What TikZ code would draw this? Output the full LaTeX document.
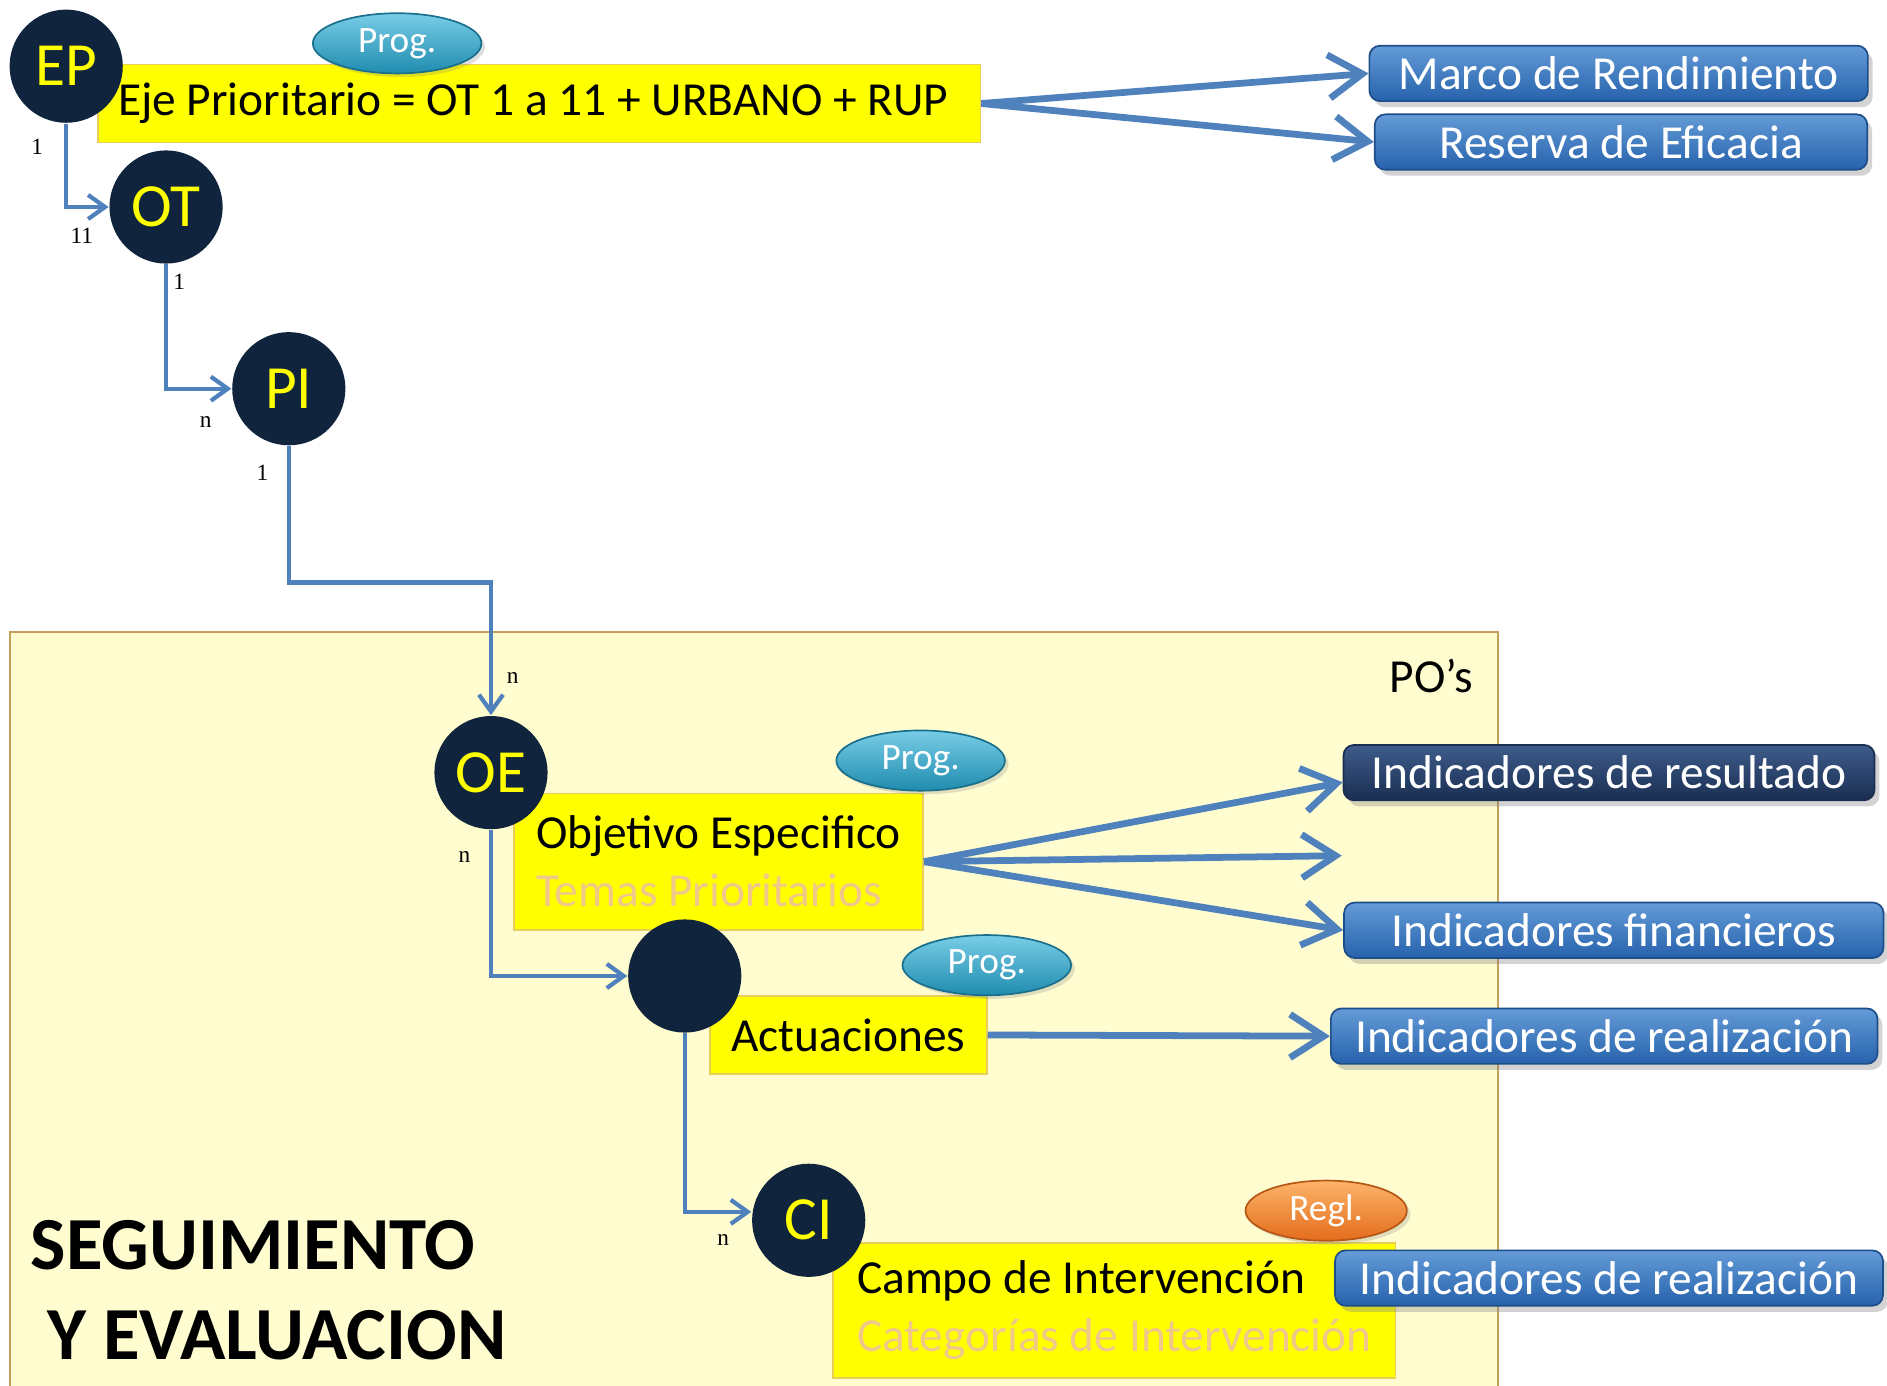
\documentclass[tikz,border=0pt]{standalone}
\usepackage{fontspec}
\setmainfont{Carlito}
\newfontfamily\serifa{Liberation Serif}
\usepackage{tikz}
\usetikzlibrary{arrows.meta,positioning,shapes.geometric,shadows}
\definecolor{azulnodo}{RGB}{16,36,62}
\definecolor{amarillo}{RGB}{255,255,0}
\definecolor{flecha}{RGB}{79,129,189}
\definecolor{fondo}{RGB}{255,253,208}
\definecolor{bordefondo}{RGB}{196,160,90}
\definecolor{bordecaja}{RGB}{232,205,90}
\definecolor{tenue}{RGB}{240,200,138}
\definecolor{azulA}{RGB}{100,155,215}
\definecolor{azulB}{RGB}{38,98,172}
\definecolor{marinoA}{RGB}{62,92,138}
\definecolor{marinoB}{RGB}{26,46,82}
\definecolor{turqA}{RGB}{120,205,230}
\definecolor{turqB}{RGB}{32,140,175}
\definecolor{naranjaA}{RGB}{252,180,105}
\definecolor{naranjaB}{RGB}{228,108,28}
\tikzset{font=\fontsize{11.2}{13.7}\selectfont}
\tikzstyle{nodo}=[circle,fill=azulnodo,text=amarillo,inner sep=0pt,minimum size=0.94cm,font=\fontsize{14.5}{16}\selectfont]
\tikzstyle{caja}=[rectangle,fill=amarillo,draw=bordecaja,line width=0.4pt,inner sep=0pt]
\tikzstyle{indic}=[rectangle,rounded corners=2.5pt,top color=azulA,bottom color=azulB,draw=azulB!80!black,text=white,minimum height=0.46cm,inner sep=0pt,drop shadow={opacity=0.35,shadow xshift=0.04cm,shadow yshift=-0.05cm}]
\tikzstyle{prog}=[ellipse,top color=turqA,bottom color=turqB,draw=turqB!80!black,text=white,minimum width=1.4cm,minimum height=0.5cm,inner sep=0pt,font=\fontsize{8.8}{9}\selectfont,drop shadow={opacity=0.25,shadow xshift=0.03cm,shadow yshift=-0.03cm}]
\tikzstyle{etiq}=[inner sep=0pt,font=\serifa\fontsize{5.5}{6}\selectfont]
\tikzstyle{conect}=[draw=flecha,line width=1pt,-{Straight Barb[length=1.4mm,width=2mm]}]
\tikzstyle{flechaG}=[color=flecha,line width=1.6pt,-{Straight Barb[length=2.8mm,width=3.6mm]}]

\begin{document}
\begin{tikzpicture}[x=0.01cm,y=-0.01cm]
\useasboundingbox (0,0) rectangle (1568,1151);
% zona de seguimiento
\draw[fill=fondo,draw=bordefondo,line width=0.5pt] (8,525) rectangle (1245,1170);
\node[anchor=east,inner sep=0pt] (POs) at (1225,562) {PO’s};
\node[anchor=west,inner sep=0pt,align=left,font=\bfseries\fontsize{17.7}{21.3}\selectfont] (SyE) at (25,1072) {SEGUIMIENTO\\\hspace*{0.22em}Y EVALUACION};

% cajas amarillas
\node[caja,minimum width=7.33cm,minimum height=0.65cm] (Eje) at (448,86) {Eje Prioritario = OT 1 a 11 + URBANO + RUP\hspace*{0.1cm}};
\node[caja,minimum width=3.4cm,minimum height=1.13cm,align=left] (Obj) at (597,716) {Objetivo Especifico\\\textcolor{tenue}{Temas Prioritarios}};
\node[caja,minimum width=2.3cm,minimum height=0.65cm] (Act) at (705,860) {Actuaciones};
\node[caja,minimum width=4.67cm,minimum height=1.12cm,align=left] (Campo) at (926,1089) {Campo de Intervención\\\textcolor{tenue}{Categorías de Intervención}};

% indicadores
\node[indic,minimum width=4.14cm] (Marco) at (1345,61) {Marco de Rendimiento};
\node[indic,minimum width=4.09cm] (Reserva) at (1347,118) {Reserva de Eficacia};
\node[indic,minimum width=4.41cm,top color=marinoA,bottom color=marinoB,draw=marinoB] (Result) at (1337,642) {Indicadores de resultado};
\node[indic,minimum width=4.48cm] (Finan) at (1341,773) {Indicadores financieros};
\node[indic,minimum width=4.54cm] (Realiz) at (1333,861) {Indicadores de realización};
\node[indic,minimum width=4.55cm] (RealizCI) at (1337,1062) {Indicadores de realización};

% elipses
\node[prog] (ProgEje) at (330,36) {Prog.};
\node[prog] (ProgObj) at (765,632) {Prog.};
\node[prog] (ProgAct) at (820,802) {Prog.};
\node[prog,top color=naranjaA,bottom color=naranjaB,draw=naranjaB!80!black,minimum width=1.34cm] (Regl) at (1102,1006) {Regl.};

% circulos
\node[nodo] (EP) at (55,55) {EP};
\node[nodo] (OT) at (138,172) {OT};
\node[nodo] (PI) at (240,323) {PI};
\node[nodo] (OE) at (408,642) {OE};
\node[nodo] (AC) at (569,811) {};
\node[nodo] (CI) at (672,1014) {CI};

% cardinalidades
\node[etiq] (cEP) at (31,122) {1};
\node[etiq] (cOTa) at (68,196) {11};
\node[etiq] (cOTb) at (149,234) {1};
\node[etiq] (cPIa) at (171,351) {n};
\node[etiq] (cPIb) at (218,393) {1};
\node[etiq] (cOEa) at (426,563) {n};
\node[etiq] (cOEb) at (386,712) {n};
\node[etiq] (cCI) at (601,1030) {n};

% conectores
\coordinate (kPI) at (408,484);
\coordinate (vacio) at (1115,711);
\draw[conect] (EP.south) |- (OT.west);
\draw[conect] (OT.south) |- (PI.west);
\draw[conect] (PI.south) |- (kPI) -- (OE.north);
\draw[conect] (OE.south) |- (AC.west);
\draw[conect] (AC.south) |- ([yshift=0.07cm]CI.west);
\path[flechaG]
(Eje.east) edge (Marco.west)
(Eje.east) edge (Reserva.west)
(Obj.east) edge ([yshift=-0.08cm]Result.west)
(Obj.east) edge (vacio)
(Obj.east) edge (Finan.west)
(Act.east) edge (Realiz.west);
\end{tikzpicture}
\end{document}
